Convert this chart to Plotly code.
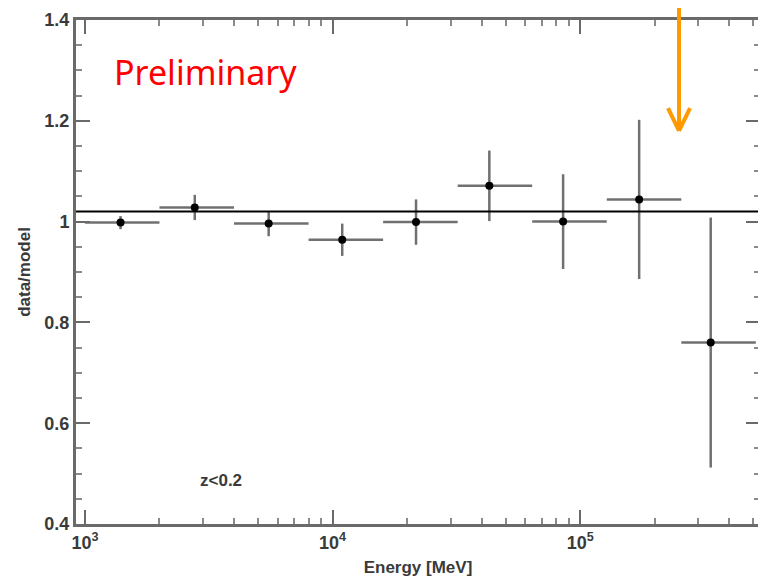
import plotly.graph_objects as go

# data (ratio of data to model per energy bin)
energy = [1393, 2777, 5521, 10940, 21730, 42960, 85300, 173000, 336500]
bin_lo = [1000, 2000, 4000, 8000, 16000, 32000, 64000, 128000, 256000]
bin_hi = [2000, 4000, 8000, 16000, 32000, 64000, 128000, 256000, 512000]
ratio = [0.998, 1.028, 0.996, 0.964, 0.999, 1.071, 1.000, 1.044, 0.760]
ratio_err = [0.013, 0.025, 0.025, 0.032, 0.045, 0.070, 0.094, 0.158, 0.248]

ref_level = 1.02
y_ticks = [0.4, 0.6, 0.8, 1.0, 1.2, 1.4]
y_tick_text = ["0.4", "0.6", "0.8", "1", "1.2", "1.4"]
x_ticks = [1e3, 1e4, 1e5]
x_tick_text = ["10<sup>3</sup>", "10<sup>4</sup>", "10<sup>5</sup>"]

err_plus = [h - e for h, e in zip(bin_hi, energy)]
err_minus = [e - l for e, l in zip(energy, bin_lo)]

fig = go.Figure()
fig.add_trace(go.Scatter(
    x=energy,
    y=ratio,
    mode="markers",
    marker=dict(color="black", size=8),
    error_x=dict(type="data", symmetric=False, array=err_plus, arrayminus=err_minus,
                 color="#707070", thickness=2.5, width=0),
    error_y=dict(type="data", array=ratio_err, color="#707070", thickness=2.5, width=0),
    showlegend=False,
))

label_font = dict(family="Liberation Sans, Arial", size=18, color="#3a3a3a", weight="bold")
title_font = dict(family="Liberation Sans, Arial", size=17, color="#3a3a3a", weight="bold")

axis_common = dict(
    showline=True, linecolor="#6a6a6a", linewidth=3, mirror="ticks",
    ticks="inside", ticklen=14, tickwidth=2, tickcolor="#6a6a6a",
    showgrid=False, zeroline=False, automargin=False,
    tickfont=label_font,
)

fig.update_xaxes(
    type="log", range=[2.964, 5.726],
    tickvals=x_ticks, ticktext=x_tick_text,
    minor=dict(ticks="inside", ticklen=6, tickwidth=1.5, tickcolor="#8a8a8a", dtick="D1"),
    title=dict(text="Energy [MeV]", standoff=10, font=title_font),
    **axis_common,
)
fig.update_yaxes(
    range=[0.4, 1.4],
    tickvals=y_ticks, ticktext=y_tick_text,
    minor=dict(ticks="inside", ticklen=6, tickwidth=1.5, tickcolor="#8a8a8a", dtick=0.05),
    title=dict(text="data/model", standoff=10, font=title_font),
    **axis_common,
)

# black reference line, runs past the right frame
fig.add_shape(type="line", xref="paper", yref="y", x0=0, x1=1.01,
              y0=ref_level, y1=ref_level, line=dict(color="black", width=2))

# orange arrow from the top edge
arrow_color = "#FF9900"
fig.add_shape(type="line", xref="paper", yref="paper", x0=0.8816, x1=0.8816,
              y0=1.045, y1=0.782, line=dict(color=arrow_color, width=4))
fig.add_shape(type="line", xref="paper", yref="paper", x0=0.8655, x1=0.8816,
              y0=0.825, y1=0.780, line=dict(color=arrow_color, width=4))
fig.add_shape(type="line", xref="paper", yref="paper", x0=0.8977, x1=0.8816,
              y0=0.825, y1=0.780, line=dict(color=arrow_color, width=4))

fig.add_annotation(text="Preliminary", xref="paper", yref="paper", x=0.052, y=0.897,
                   xanchor="left", yanchor="middle", showarrow=False,
                   font=dict(family="Comic Sans MS, Noto Sans", size=34, color="#FF0000"))
fig.add_annotation(text="z<0.2", xref="paper", yref="paper", x=0.212, y=0.087,
                   xanchor="center", yanchor="middle", showarrow=False,
                   font=dict(family="Liberation Sans, Arial", size=17, color="#3a3a3a", weight="bold"))

# the page body adds 8px, so the figure is sized to end at the window edge
fig.update_layout(
    width=758, height=572,
    margin=dict(l=68, r=6, t=12, b=56),
    plot_bgcolor="white", paper_bgcolor="white",
)

fig.write_html("out.html")
